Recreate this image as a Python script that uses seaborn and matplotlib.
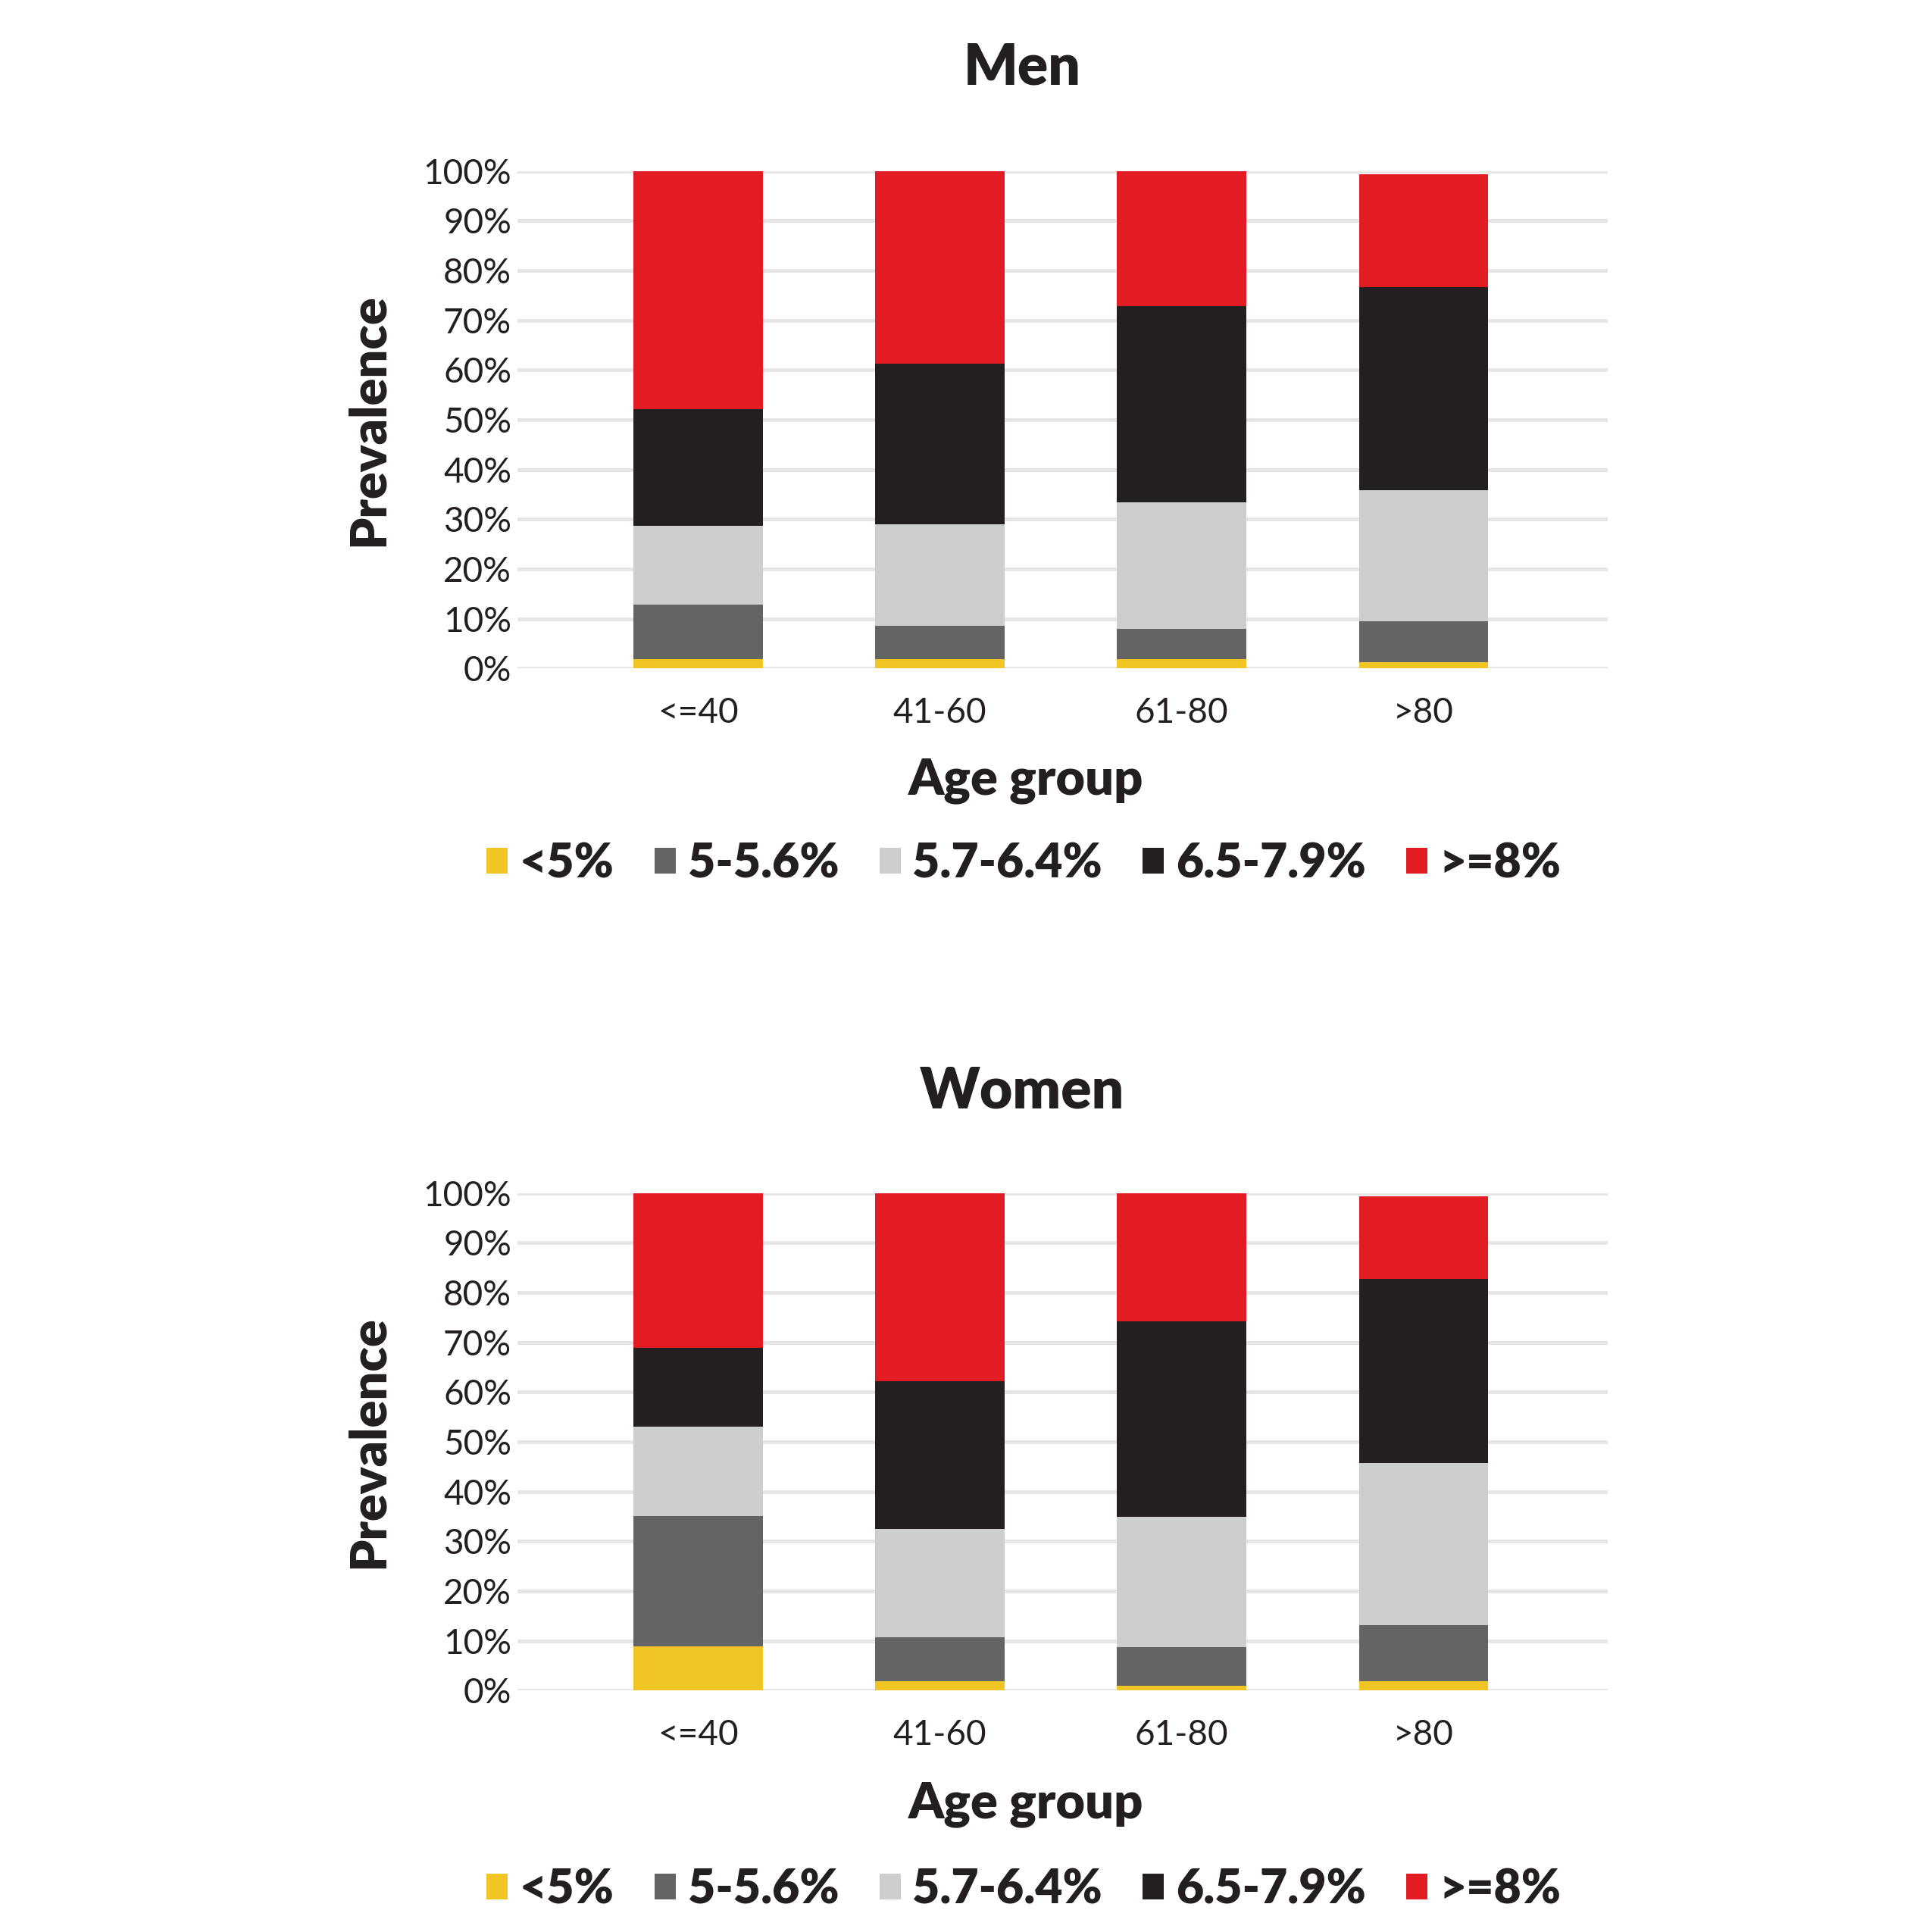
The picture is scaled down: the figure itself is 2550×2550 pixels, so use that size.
import numpy as np
import pandas as pd
import matplotlib
matplotlib.use("Agg")
import matplotlib.pyplot as plt
import seaborn as sns
from matplotlib.patches import Patch

sns.set_style("white")
plt.rcParams["font.family"] = ["Lato", "DejaVu Sans"]

# data (percent), bottom segment first
age_groups = ["<=40", "41-60", "61-80", ">80"]
hba1c_levels = ["<5%", "5-5.6%", "5.7-6.4%", "6.5-7.9%", ">=8%"]
colors = ["#F1C524", "#646464", "#CDCED0", "#231F20", "#E31B23"]

men_lt5 = [1.8, 1.8, 1.8, 1.2]
men_5_56 = [11.1, 6.8, 6.2, 8.3]
men_57_64 = [15.8, 20.4, 25.4, 26.3]
men_65_79 = [23.5, 32.3, 39.4, 40.8]
men_ge8 = [47.8, 38.7, 27.2, 22.7]

women_lt5 = [8.8, 1.8, 1.0, 1.8]
women_5_56 = [26.3, 8.9, 7.7, 11.3]
women_57_64 = [17.9, 21.8, 26.2, 32.7]
women_65_79 = [15.8, 29.6, 39.3, 37.0]
women_ge8 = [31.2, 37.9, 25.8, 16.6]

men = pd.DataFrame(dict(zip(hba1c_levels, [men_lt5, men_5_56, men_57_64, men_65_79, men_ge8])),
                   index=age_groups)
women = pd.DataFrame(dict(zip(hba1c_levels, [women_lt5, women_5_56, women_57_64, women_65_79, women_ge8])),
                     index=age_groups)

fig = plt.figure(figsize=(8.5, 8.5), dpi=300)
ax_men = fig.add_axes([0.268, 0.654, 0.564, 0.2575])
ax_women = fig.add_axes([0.268, 0.125, 0.564, 0.2575])


def draw_panel(ax, df, title, title_y, label_y, legend_y):
    cum = df.cumsum(axis=1)
    # draw from the top segment down so lower segments sit over it
    for level, col in reversed(list(zip(hba1c_levels, colors))):
        sns.barplot(x=age_groups, y=cum[level].values, color=col, width=0.535,
                    saturation=1, linewidth=0, edgecolor="none", ax=ax, zorder=2)
    ax.set_ylim(0, 100)
    ax.set_xlim(-0.745, 3.76)
    ax.set_yticks(np.arange(0, 101, 10))
    ax.set_yticklabels([f"{v}%" for v in range(0, 101, 10)])
    ax.yaxis.grid(True, color="#E6E6E6", linewidth=1.2)
    ax.set_axisbelow(True)
    sns.despine(ax=ax, left=True, bottom=True)
    ax.tick_params(axis="both", length=0, labelsize=11, colors="#231F20")
    ax.tick_params(axis="y", pad=2)
    ax.tick_params(axis="x", pad=9)
    ax.set_xlabel("")
    ax.set_ylabel("Prevalence", fontsize=16, fontweight="heavy", color="#231F20", labelpad=10)

    fig.text(0.529, title_y, title, ha="center", va="center", fontsize=18,
             fontweight="heavy", color="#231F20")
    fig.text(0.531, label_y, "Age group", ha="center", va="center", fontsize=16,
             fontweight="heavy", color="#231F20")
    handles = [Patch(facecolor=c, edgecolor="none") for c in colors]
    leg = fig.legend(handles, hba1c_levels, loc="center", bbox_to_anchor=(0.53, legend_y),
                     ncol=5, frameon=False, handlelength=0.45, handleheight=0.45,
                     handletextpad=0.25, columnspacing=0.85,
                     prop={"size": 15, "weight": "heavy"})
    for t in leg.get_texts():
        t.set_color("#231F20")


draw_panel(ax_men, men, "Men", 0.965, 0.596, 0.553)
draw_panel(ax_women, women, "Women", 0.435, 0.066, 0.022)

fig.savefig("out.png", dpi=300)
